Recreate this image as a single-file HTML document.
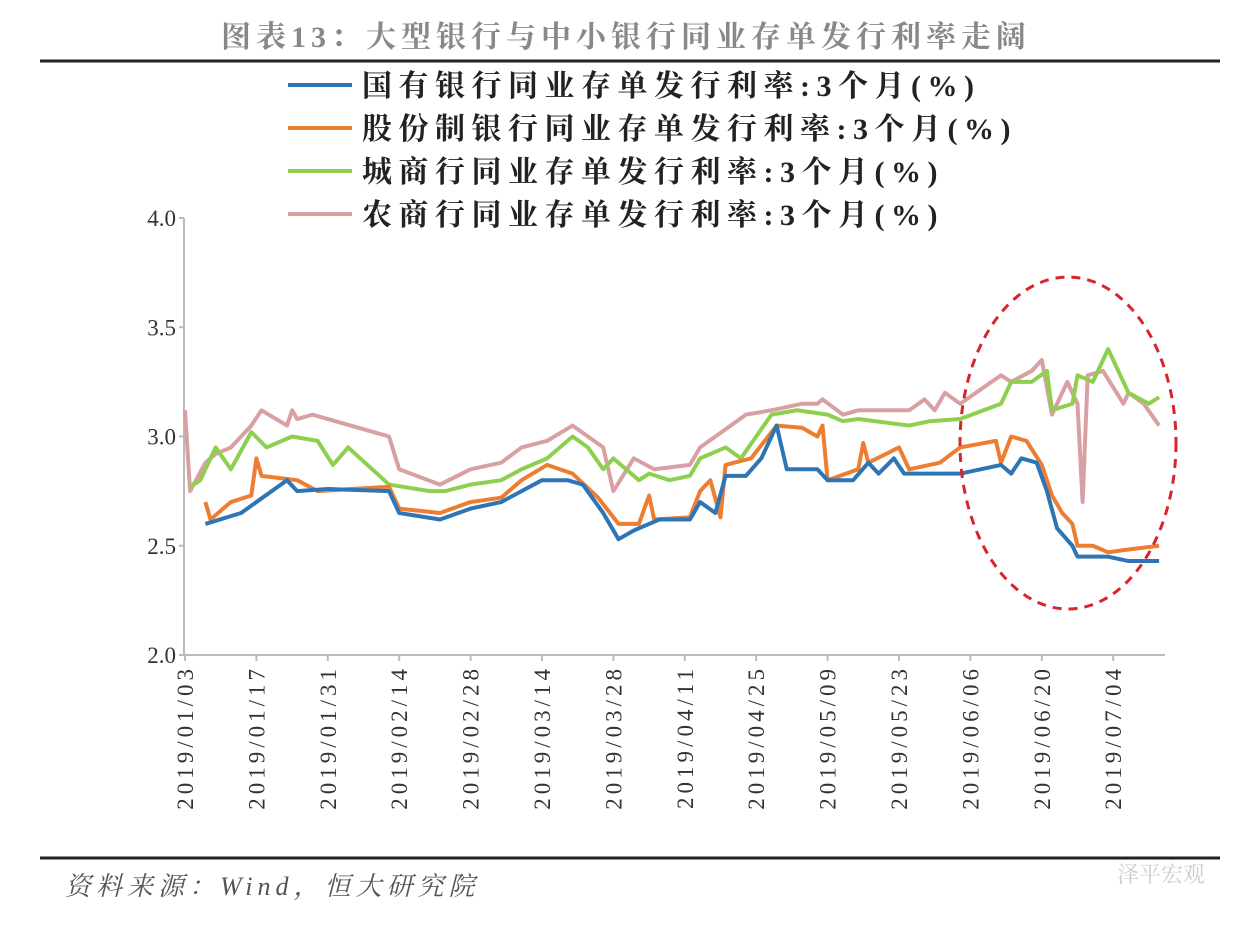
<!DOCTYPE html>
<html><head><meta charset="utf-8"><style>
body{margin:0;background:#fff;}
svg text{font-family:"Liberation Serif","Noto Serif CJK SC",serif;}
</style></head><body>
<svg id="chart" width="1245" height="924" viewBox="0 0 1245 924" xmlns="http://www.w3.org/2000/svg">
<rect width="1245" height="924" fill="#fff"/>
<text x="626" y="47" text-anchor="middle" font-size="30" letter-spacing="5" font-weight="bold" fill="#888">图表13：大型银行与中小银行同业存单发行利率走阔</text>
<line x1="40" y1="61" x2="1220" y2="61" stroke="#222" stroke-width="3"/>
<line x1="40" y1="858" x2="1220" y2="858" stroke="#222" stroke-width="3"/>
<text x="65" y="895" font-size="26" letter-spacing="5" fill="#555" font-style="italic">资料来源：Wind，恒大研究院</text>
<text x="1205" y="882" text-anchor="end" font-size="22" fill="#ccc">泽平宏观</text>
<g id="legend"></g>
<g id="axes"></g>
<g id="series"></g>
<ellipse cx="1068" cy="443" rx="108" ry="166" fill="none" stroke="#d9242a" stroke-width="3" stroke-dasharray="9,7"/>
</svg>
<script>
const yTicks=[2.0,2.5,3.0,3.5,4.0];
const xTickLabels=["2019/01/03","2019/01/17","2019/01/31","2019/02/14","2019/02/28","2019/03/14","2019/03/28","2019/04/11","2019/04/25","2019/05/09","2019/05/23","2019/06/06","2019/06/20","2019/07/04"];
const seriesNames=["国有银行同业存单发行利率:3个月(%)","股份制银行同业存单发行利率:3个月(%)","城商行同业存单发行利率:3个月(%)","农商行同业存单发行利率:3个月(%)"];
const seriesColors=["#2e75b6","#ed7d31","#8fcf4f","#d9a0a4"];
const blueDays=[4,11,20,22,28,40,42,50,56,62,66,70,75,78,82,85,88,93,99,101,104,106,110,113,116,118,124,126,131,134,136,139,141,145,152,160,162,164,167,169,171,174,175,181,185,191];
const blueVals=[2.6,2.65,2.8,2.75,2.76,2.75,2.65,2.62,2.67,2.7,2.75,2.8,2.8,2.78,2.65,2.53,2.57,2.62,2.62,2.7,2.65,2.82,2.82,2.9,3.05,2.85,2.85,2.8,2.8,2.88,2.83,2.9,2.83,2.83,2.83,2.87,2.83,2.9,2.88,2.75,2.58,2.5,2.45,2.45,2.43,2.43];
const orangeDays=[4,5,9,13,14,15,22,26,40,42,50,56,62,66,71,76,81,85,89,91,92,99,101,103,105,106,111,116,121,124,125,126,132,133,134,140,142,148,152,159,160,162,165,168,170,172,174,175,178,181,184,191];
const orangeVals=[2.7,2.62,2.7,2.73,2.9,2.82,2.8,2.75,2.77,2.67,2.65,2.7,2.72,2.8,2.87,2.83,2.72,2.6,2.6,2.73,2.62,2.63,2.75,2.8,2.63,2.87,2.9,3.05,3.04,3.0,3.05,2.8,2.85,2.97,2.88,2.95,2.85,2.88,2.95,2.98,2.88,3.0,2.98,2.87,2.73,2.65,2.6,2.5,2.5,2.47,2.48,2.5];
const greenDays=[1,3,6,9,13,16,21,26,29,32,40,48,51,56,62,66,71,76,79,82,84,89,91,95,99,101,106,109,115,120,126,129,132,142,146,152,160,162,166,169,170,174,175,178,181,185,189,191];
const greenVals=[2.77,2.8,2.95,2.85,3.02,2.95,3.0,2.98,2.87,2.95,2.78,2.75,2.75,2.78,2.8,2.85,2.9,3.0,2.95,2.85,2.9,2.8,2.83,2.8,2.82,2.9,2.95,2.9,3.1,3.12,3.1,3.07,3.08,3.05,3.07,3.08,3.15,3.25,3.25,3.3,3.12,3.15,3.28,3.25,3.4,3.2,3.15,3.18];
const pinkDays=[0,1,4,6,9,13,15,20,21,22,25,40,42,50,56,62,66,71,76,79,82,84,88,92,99,101,107,110,115,121,124,125,129,132,142,145,147,149,152,160,162,166,168,170,173,175,176,177,180,184,185,188,191];
const pinkVals=[3.12,2.75,2.88,2.92,2.95,3.05,3.12,3.05,3.12,3.08,3.1,3.0,2.85,2.78,2.85,2.88,2.95,2.98,3.05,3.0,2.95,2.75,2.9,2.85,2.87,2.95,3.05,3.1,3.12,3.15,3.15,3.17,3.1,3.12,3.12,3.17,3.12,3.2,3.15,3.28,3.25,3.3,3.35,3.1,3.25,3.15,2.7,3.28,3.3,3.15,3.2,3.15,3.05];

const NS="http://www.w3.org/2000/svg";
const X0=185,PXD=5.1,Y0=655,Ytop=218;
const xs=d=>X0+d*PXD;
const ys=v=>Y0-(v-2)/(4-2)*(Y0-Ytop);
function mk(tag,at,parent){const e=document.createElementNS(NS,tag);for(const k in at)e.setAttribute(k,at[k]);parent.appendChild(e);return e;}
const axes=document.getElementById('axes');
const yAxis=mk('line',{x1:184,y1:Ytop,x2:184,y2:Y0,stroke:'#bbb','stroke-width':2},axes);


const xAxis=mk('line',{x1:184,y1:Y0,x2:1165,y2:Y0,stroke:'#bbb','stroke-width':2},axes);


yTicks.forEach(v=>{
  const t=mk('text',{x:176,y:ys(v)+8,'text-anchor':'end','font-size':23,fill:'#333'},axes);
  t.textContent=v.toFixed(1);
  
  
  const tk=mk('line',{x1:179,y1:ys(v),x2:184,y2:ys(v),stroke:'#bbb','stroke-width':2},axes);
  
  
});
xTickLabels.forEach((s,i)=>{
  const x=xs(i*14);
  const tk=mk('line',{x1:x,y1:Y0,x2:x,y2:Y0+6,stroke:'#bbb','stroke-width':2},axes);
  
  
  const t=mk('text',{x:0,y:0,'text-anchor':'end','font-size':23,'letter-spacing':4,fill:'#333',transform:`translate(${x+8},${Y0+10}) rotate(-90)`},axes);
  t.textContent=s;
  
  
});
const ser=document.getElementById('series');
const data=[[blueDays,blueVals],[orangeDays,orangeVals],[greenDays,greenVals],[pinkDays,pinkVals]];
const names=['series-state-banks','series-joint-stock-banks','series-city-banks','series-rural-banks'];
[3,2,1,0].forEach(i=>{
  const [d,v]=data[i];
  const p=mk('polyline',{points:d.map((dd,j)=>xs(dd)+','+ys(v[j])).join(' '),fill:'none',stroke:seriesColors[i],'stroke-width':4,'stroke-linejoin':'round'},ser);
  
  
});
const lg=document.getElementById('legend');
seriesNames.forEach((n,i)=>{
  const y=85+i*43;
  const l=mk('line',{x1:288,y1:y,x2:352,y2:y,stroke:seriesColors[i],'stroke-width':4},lg);
  
  
  const t=mk('text',{x:362,y:y+11,'font-size':30,'letter-spacing':6.5,'font-weight':'bold',fill:'#222'},lg);
  t.textContent=n;
  
  
});
</script>
</body></html>
